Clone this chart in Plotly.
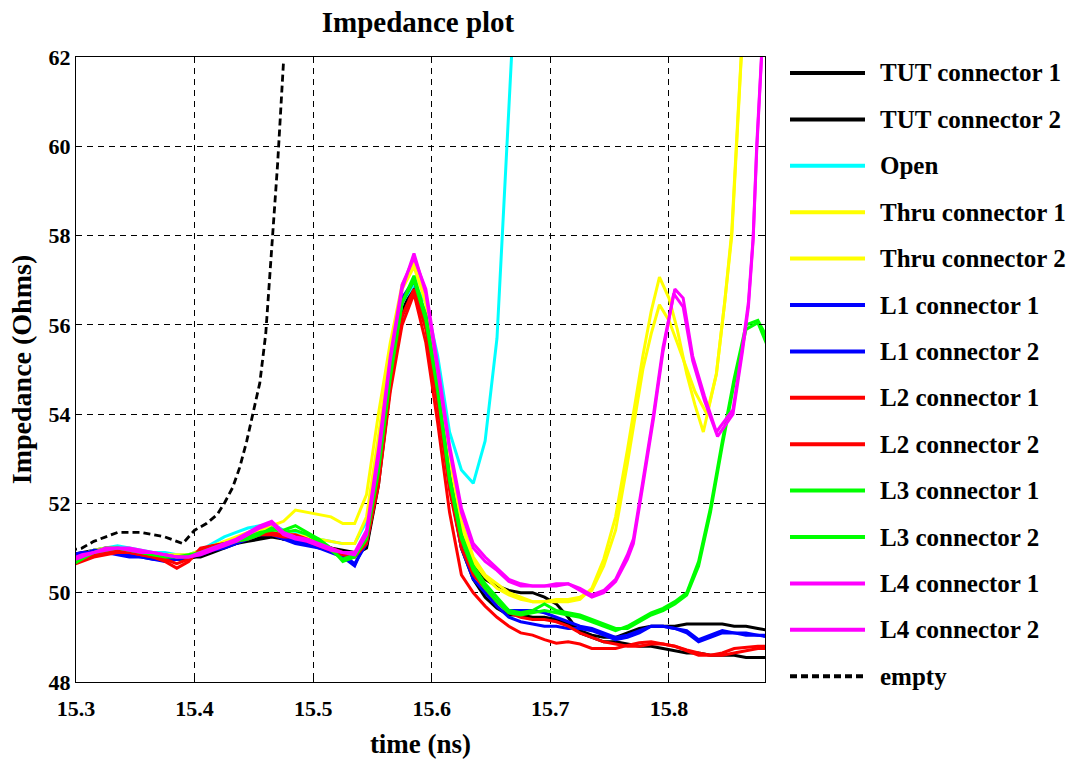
import plotly.graph_objects as go

# ---------------- data ----------------
time = [15.295, 15.305, 15.315, 15.325, 15.335, 15.345, 15.355, 15.365, 15.375, 15.385,
        15.395, 15.405, 15.415, 15.425, 15.435, 15.445, 15.455, 15.465, 15.475, 15.485,
        15.495, 15.505, 15.515, 15.525, 15.535, 15.545, 15.555, 15.565, 15.575, 15.585,
        15.595, 15.605, 15.615, 15.625, 15.635, 15.645, 15.655, 15.665, 15.675, 15.685,
        15.695, 15.705, 15.715, 15.725, 15.735, 15.745, 15.755, 15.765, 15.775, 15.785,
        15.795, 15.805, 15.815, 15.825, 15.835, 15.845, 15.855, 15.865, 15.875, 15.885]

tut1 = [50.75, 50.85, 50.9, 50.95, 50.95, 50.9, 50.85, 50.8, 50.8, 50.75,
        50.75, 50.85, 50.95, 51.05, 51.1, 51.2, 51.25, 51.3, 51.2, 51.2,
        51.15, 51.1, 51.0, 50.9, 50.85, 51.0, 52.4, 54.6, 56.2, 56.8,
        56.0, 54.4, 52.6, 51.3, 50.6, 50.3, 50.15, 50.05, 50.0, 50.0,
        49.9, 49.75, 49.45, 49.1, 49.0, 48.9, 48.9, 48.85, 48.8, 48.8,
        48.75, 48.7, 48.65, 48.65, 48.6, 48.6, 48.6, 48.55, 48.55, 48.55]

tut2 = [50.85, 50.9, 50.95, 51.0, 50.95, 50.9, 50.9, 50.85, 50.8, 50.8,
        50.8, 50.8, 50.9, 51.0, 51.1, 51.15, 51.2, 51.25, 51.2, 51.15,
        51.1, 51.05, 51.0, 50.95, 50.9, 51.05, 52.5, 54.7, 56.3, 56.9,
        56.1, 54.5, 52.5, 51.0, 50.3, 49.9, 49.65, 49.5, 49.5, 49.45,
        49.45, 49.4, 49.3, 49.15, 49.05, 49.0, 49.0, 49.1, 49.2, 49.25,
        49.25, 49.25, 49.3, 49.3, 49.3, 49.3, 49.25, 49.25, 49.2, 49.15]

open_v = [50.8, 50.85, 50.95, 51.0, 51.05, 51.0, 50.95, 50.9, 50.9, 50.85,
          50.85, 50.95, 51.1, 51.25, 51.35, 51.45, 51.5, 51.55, 51.4, 51.35,
          51.3, 51.2, 51.15, 51.1, 51.1, 51.6, 53.1, 55.0, 56.5, 56.9,
          56.5, 55.3, 53.6, 52.75, 52.45, 53.4, 55.7, 61.0, 66.0]

thru1_head = [50.75, 50.85, 50.95, 51.0, 51.0, 50.95, 50.9, 50.85, 50.8, 50.8,
              50.85, 50.95, 51.05, 51.15, 51.25, 51.35, 51.45, 51.5, 51.6, 51.85,
              51.8, 51.75, 51.7, 51.55, 51.55, 52.2, 54.0, 55.6, 56.9, 57.4,
              56.5, 54.9, 53.0, 51.6, 50.8, 50.4, 50.2, 50.0, 49.9, 49.8,
              49.8, 49.8, 49.8, 49.85, 50.1, 50.75, 51.7, 53.2]
thru1_tail_t = [15.778, 15.785, 15.792, 15.800, 15.807, 15.815, 15.822, 15.829,
                15.835, 15.840, 15.847, 15.853, 15.857, 15.861, 15.866]
thru1_tail = [55.3, 56.3, 57.07, 56.6, 55.9, 54.9, 54.2, 53.6,
              54.3, 54.9, 56.5, 58.0, 60.0, 62.0, 64.5]

thru2_head = [50.8, 50.85, 50.9, 50.95, 51.0, 50.95, 50.9, 50.85, 50.85, 50.85,
              50.85, 50.9, 51.0, 51.1, 51.2, 51.3, 51.4, 51.5, 51.35, 51.3,
              51.25, 51.2, 51.15, 51.1, 51.1, 51.7, 53.5, 55.4, 56.8, 57.3,
              56.5, 54.8, 52.9, 51.5, 50.7, 50.35, 50.1, 49.95, 49.85, 49.8,
              49.8, 49.85, 49.85, 49.9, 50.05, 50.6, 51.4, 52.9]
thru2_tail_t = [15.778, 15.785, 15.792, 15.800, 15.807, 15.815, 15.822, 15.832,
                15.840, 15.847, 15.853, 15.857, 15.861, 15.866]
thru2_tail = [55.0, 55.8, 56.45, 56.1, 55.6, 55.0, 54.5, 54.0,
              54.9, 56.5, 58.1, 60.1, 62.1, 64.5]

l1_1 = [50.8, 50.85, 50.95, 50.95, 50.9, 50.85, 50.8, 50.75, 50.75, 50.75,
        50.8, 50.85, 50.95, 51.0, 51.1, 51.2, 51.3, 51.35, 51.25, 51.15,
        51.1, 51.0, 50.9, 50.8, 50.6, 51.2, 52.8, 55.0, 56.6, 57.0,
        56.1, 54.4, 52.4, 51.0, 50.3, 50.0, 49.7, 49.45, 49.35, 49.3,
        49.25, 49.25, 49.2, 49.2, 49.15, 49.05, 48.95, 49.0, 49.1, 49.25,
        49.25, 49.2, 49.15, 48.95, 49.05, 49.15, 49.1, 49.05, 49.05, 49.0]

l1_2 = [50.85, 50.9, 50.9, 50.9, 50.85, 50.8, 50.8, 50.75, 50.7, 50.75,
        50.8, 50.9, 51.0, 51.05, 51.15, 51.25, 51.3, 51.3, 51.2, 51.1,
        51.05, 51.0, 50.95, 50.85, 50.65, 51.1, 52.6, 54.8, 56.5, 57.0,
        56.2, 54.5, 52.6, 51.2, 50.5, 50.1, 49.8, 49.6, 49.6, 49.6,
        49.55, 49.45, 49.35, 49.25, 49.2, 49.1, 49.0, 49.05, 49.15, 49.25,
        49.25, 49.2, 49.1, 48.9, 49.0, 49.1, 49.1, 49.1, 49.05, 49.05]

l2_1 = [50.6, 50.7, 50.8, 50.85, 50.9, 50.9, 50.85, 50.8, 50.7, 50.55,
        50.7, 51.0, 51.05, 51.1, 51.15, 51.2, 51.3, 51.35, 51.3, 51.3,
        51.2, 51.1, 51.0, 50.9, 50.8, 51.1, 52.4, 54.5, 56.0, 56.7,
        55.6, 53.8, 51.8, 50.4, 50.0, 49.7, 49.45, 49.25, 49.1, 49.05,
        48.95, 48.87, 48.9, 48.85, 48.75, 48.75, 48.75, 48.82, 48.88, 48.9,
        48.85, 48.8, 48.72, 48.65, 48.6, 48.65, 48.75, 48.78, 48.8, 48.8]

l2_2 = [50.65, 50.75, 50.85, 50.9, 50.95, 50.9, 50.85, 50.8, 50.75, 50.65,
        50.75, 50.95, 51.05, 51.1, 51.15, 51.25, 51.3, 51.3, 51.25, 51.25,
        51.15, 51.05, 50.95, 50.85, 50.8, 51.2, 52.6, 54.7, 56.2, 56.8,
        55.9, 54.2, 52.3, 51.0, 50.4, 50.1, 49.8, 49.55, 49.45, 49.4,
        49.4, 49.35, 49.25, 49.1, 49.0, 48.9, 48.85, 48.8, 48.8, 48.85,
        48.85, 48.8, 48.7, 48.6, 48.6, 48.6, 48.65, 48.7, 48.75, 48.75]

l3_1 = [50.6, 50.75, 50.9, 51.0, 51.0, 50.95, 50.9, 50.85, 50.8, 50.8,
        50.8, 50.9, 51.0, 51.1, 51.15, 51.25, 51.35, 51.4, 51.4, 51.5,
        51.35, 51.2, 51.0, 50.7, 50.8, 51.2, 52.7, 54.8, 56.5, 57.1,
        56.2, 54.6, 52.6, 51.3, 50.6, 50.2, 49.9, 49.6, 49.55, 49.6,
        49.75, 49.6, 49.55, 49.5, 49.4, 49.3, 49.2, 49.2, 49.35, 49.5,
        49.6, 49.75, 49.95, 50.6, 51.8, 53.3, 54.7, 55.9, 56.05, 55.4]

l3_2 = [50.65, 50.8, 50.9, 50.95, 51.0, 50.95, 50.9, 50.85, 50.85, 50.8,
        50.85, 50.9, 51.0, 51.05, 51.15, 51.2, 51.3, 51.45, 51.35, 51.4,
        51.3, 51.15, 50.95, 50.75, 50.85, 51.3, 52.8, 54.9, 56.5, 57.0,
        56.1, 54.5, 52.5, 51.2, 50.5, 50.1, 49.8, 49.55, 49.5, 49.55,
        49.6, 49.55, 49.5, 49.45, 49.35, 49.25, 49.15, 49.25, 49.4, 49.55,
        49.65, 49.8, 50.0, 50.7, 51.9, 53.4, 54.8, 56.0, 56.1, 55.6]

l4_1_head = [50.7, 50.8, 50.9, 50.95, 51.0, 51.0, 50.95, 50.9, 50.85, 50.8,
             50.8, 50.9, 51.0, 51.1, 51.2, 51.35, 51.5, 51.6, 51.35, 51.25,
             51.2, 51.1, 51.0, 50.9, 50.85, 51.3, 53.0, 55.2, 56.8, 57.6,
             56.7, 55.0, 53.2, 51.8, 51.0, 50.7, 50.5, 50.25, 50.15, 50.15,
             50.15, 50.2, 50.2, 50.1, 49.95, 50.05, 50.3, 50.85]
l4_1_tail_t = [15.770, 15.778, 15.787, 15.795, 15.805, 15.812, 15.820, 15.830,
               15.840, 15.854, 15.862, 15.867, 15.871, 15.874, 15.878, 15.882]
l4_1_tail = [51.2, 52.5, 54.0, 55.5, 56.8, 56.6, 55.3, 54.4,
             53.6, 54.1, 55.5, 56.5, 57.95, 60.0, 62.0, 64.0]

l4_2_head = [50.75, 50.85, 50.9, 51.0, 51.0, 50.95, 50.9, 50.9, 50.85, 50.8,
             50.8, 50.85, 50.95, 51.05, 51.15, 51.3, 51.45, 51.55, 51.3, 51.2,
             51.15, 51.05, 50.95, 50.9, 50.9, 51.4, 53.2, 55.3, 56.9, 57.5,
             56.8, 55.1, 53.3, 51.9, 51.1, 50.8, 50.55, 50.3, 50.2, 50.15,
             50.15, 50.15, 50.2, 50.05, 49.9, 50.0, 50.25, 50.75]
l4_2_tail_t = [15.770, 15.778, 15.787, 15.795, 15.804, 15.812, 15.820, 15.830,
               15.841, 15.854, 15.862, 15.867, 15.871, 15.874, 15.878, 15.882]
l4_2_tail = [51.1, 52.4, 53.9, 55.4, 56.7, 56.4, 55.2, 54.3,
             53.5, 54.0, 55.4, 56.4, 57.9, 59.9, 62.0, 64.0]

empty_t = [15.295, 15.305, 15.315, 15.325, 15.335, 15.345, 15.355, 15.365, 15.375, 15.385,
           15.390, 15.400, 15.410, 15.419, 15.425, 15.432, 15.438, 15.444, 15.449, 15.455,
           15.460, 15.465, 15.470, 15.475]
empty_v = [50.95, 51.0, 51.15, 51.25, 51.35, 51.35, 51.35, 51.3, 51.25, 51.15,
           51.1, 51.4, 51.55, 51.75, 52.0, 52.35, 52.8, 53.4, 54.0, 54.7,
           55.8, 57.6, 59.6, 61.9]

names = ["TUT connector 1", "TUT connector 2", "Open", "Thru connector 1", "Thru connector 2",
         "L1 connector 1", "L1 connector 2", "L2 connector 1", "L2 connector 2",
         "L3 connector 1", "L3 connector 2", "L4 connector 1", "L4 connector 2", "empty"]
colors = ["#000000", "#000000", "#00ffff", "#ffff00", "#ffff00",
          "#0000ff", "#0000ff", "#ff0000", "#ff0000",
          "#00ff00", "#00ff00", "#ff00ff", "#ff00ff", "#000000"]
dashes = ["solid"] * 13 + ["dash"]

x_ticks = [15.3, 15.4, 15.5, 15.6, 15.7, 15.8]
x_ticklabels = ["15.3", "15.4", "15.5", "15.6", "15.7", "15.8"]
y_ticks = [48, 50, 52, 54, 56, 58, 60, 62]
y_ticklabels = ["48", "50", "52", "54", "56", "58", "60", "62"]

series_x = [time, time, time[:len(open_v)],
            time[:len(thru1_head)] + thru1_tail_t,
            time[:len(thru2_head)] + thru2_tail_t,
            time, time, time, time, time, time,
            time[:len(l4_1_head)] + l4_1_tail_t,
            time[:len(l4_2_head)] + l4_2_tail_t,
            empty_t]
series_y = [tut1, tut2, open_v,
            thru1_head + thru1_tail,
            thru2_head + thru2_tail,
            l1_1, l1_2, l2_1, l2_2, l3_1, l3_2,
            l4_1_head + l4_1_tail,
            l4_2_head + l4_2_tail,
            empty_v]

# ---------------- figure ----------------
W, H = 1091, 759
ML, MR, MT, MB = 76, 326, 57, 77
FONT = "Liberation Serif"
DASH = "7px,4px"

fig = go.Figure()
for xs, ys, nm, c, d in zip(series_x, series_y, names, colors, dashes):
    fig.add_trace(go.Scatter(
        x=xs, y=ys, name=nm, mode="lines",
        line=dict(color=c, width=3.0 if d == "solid" else 2.8,
                  dash=DASH if d == "dash" else "solid"),
        showlegend=False))

# manual legend (long line samples, like the original)
pw = W - ML - MR
ph = H - MT - MB
leg_top_px, leg_step_px = 73, 46.4
for i, (nm, c, d) in enumerate(zip(names, colors, dashes)):
    ypx = leg_top_px + i * leg_step_px
    yp = (H - MB - ypx) / ph
    fig.add_shape(type="line", xref="paper", yref="paper",
                  x0=(790 - ML) / pw, x1=(865 - ML) / pw, y0=yp, y1=yp,
                  line=dict(color=c, width=4, dash=DASH if d == "dash" else "solid"))
    fig.add_annotation(xref="paper", yref="paper", x=(878 - ML) / pw, y=yp,
                       text=nm, showarrow=False, xanchor="left", yanchor="middle",
                       font=dict(family=FONT, size=25, color="black", weight="bold"))

axis_common = dict(
    showline=True, linecolor="black", linewidth=1.3, mirror="ticks",
    ticks="inside", ticklen=6, tickcolor="black", tickwidth=1,
    showgrid=True, gridcolor="black", gridwidth=1.2, griddash="6px,5px",
    zeroline=False,
    tickfont=dict(family=FONT, size=22, color="black", weight="bold"),
)

fig.update_xaxes(range=[15.3, 15.881], tickvals=x_ticks, ticktext=x_ticklabels,
                 ticklabelstandoff=6,
                 title=dict(text="time (ns)", standoff=16,
                            font=dict(family=FONT, size=27, color="black", weight="bold")),
                 **axis_common)
fig.update_yaxes(range=[48, 62], tickvals=y_ticks, ticktext=y_ticklabels,
                 title=dict(text="Impedance (Ohms)", standoff=8,
                            font=dict(family=FONT, size=28, color="black", weight="bold")),
                 **axis_common)

fig.update_layout(
    width=W, height=H,
    margin=dict(l=ML, r=MR, t=MT, b=MB, autoexpand=False),
    paper_bgcolor="white", plot_bgcolor="white",
    title=dict(text="Impedance plot", x=418 / W, xanchor="center",
               y=1 - 22 / H, yanchor="middle", yref="container",
               font=dict(family=FONT, size=29, color="black", weight="bold")),
    showlegend=False,
)

fig.write_html("out.html")
